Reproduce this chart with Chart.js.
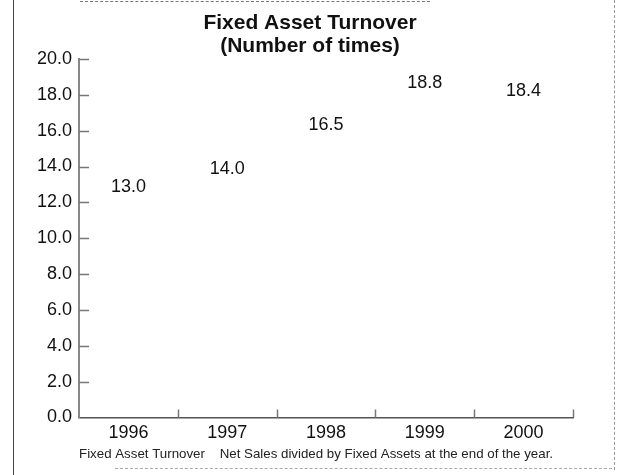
<!DOCTYPE html>
<html lang="en">
<head>
  <meta charset="UTF-8">
  <title>Fixed Asset Turnover</title>
  <script src="https://cdn.jsdelivr.net/npm/chart.js"></script>
  <style>
    body { margin: 0; background: #fff; }
    #wrap { position: relative; width: 620px; height: 475px; }
    .edge { position: absolute; }
  </style>
</head>
<body>
<div id="wrap">
  <canvas id="myChart" width="620" height="475"></canvas>
  <div class="edge" style="left:13px;top:0;width:0;height:475px;border-left:1px solid #444;"></div>
  <div class="edge" style="left:614px;top:0;width:0;height:470px;border-left:1px dashed #999;"></div>
  <div class="edge" style="left:80px;top:1px;width:350px;height:0;border-top:1px dashed #777;"></div>
  <div class="edge" style="left:115px;top:468px;width:497px;height:0;border-top:1px dashed #aaa;"></div>
</div>
<script>
  const years = ['1996', '1997', '1998', '1999', '2000'];
  const turnover = [13.0, 14.0, 16.5, 18.8, 18.4];
  const yTicks = [0, 2, 4, 6, 8, 10, 12, 14, 16, 18, 20];
  const titleLines = ['Fixed Asset Turnover', '(Number of times)'];
  const footnote = 'Fixed Asset Turnover    Net Sales divided by Fixed Assets at the end of the year.';

  const fontFamily = '"Liberation Sans", Arial, Helvetica, sans-serif';

  // value labels printed at the top of each (blank) bar
  const valueLabels = {
    id: 'valueLabels',
    afterDatasetsDraw(chart) {
      const ctx = chart.ctx;
      const meta = chart.getDatasetMeta(0);
      ctx.save();
      ctx.font = '18px ' + fontFamily;
      ctx.fillStyle = '#111';
      ctx.textAlign = 'center';
      ctx.textBaseline = 'middle';
      meta.data.forEach((bar, i) => {
        ctx.fillText(turnover[i].toFixed(1), bar.x, bar.y + 3);
      });
      ctx.restore();
    }
  };

  // short tick marks pointing into the plot from both axes
  const innerTicks = {
    id: 'innerTicks',
    afterDraw(chart) {
      const ctx = chart.ctx;
      const area = chart.chartArea;
      const xs = chart.scales.x;
      const ys = chart.scales.y;
      ctx.save();
      ctx.strokeStyle = '#777';
      ctx.lineWidth = 1.5;
      ctx.beginPath();
      yTicks.forEach(v => {
        if (v === 0) return;
        const y = Math.round(ys.getPixelForValue(v)) + 0.5;
        ctx.moveTo(area.left, y);
        ctx.lineTo(area.left + 10, y);
      });
      for (let i = 1; i <= years.length; i++) {
        let x = i < years.length
          ? (xs.getPixelForValue(i - 1) + xs.getPixelForValue(i)) / 2
          : area.right;
        x = Math.round(x) + 0.5;
        ctx.moveTo(x, area.bottom);
        ctx.lineTo(x, area.bottom - 8);
      }
      ctx.stroke();
      ctx.restore();
    }
  };

  // heading centred on the page, definition line under the axis
  const headings = {
    id: 'headings',
    afterDraw(chart) {
      const ctx = chart.ctx;
      ctx.save();
      ctx.fillStyle = '#111';
      ctx.textBaseline = 'middle';
      ctx.textAlign = 'center';
      ctx.font = 'bold 21px ' + fontFamily;
      titleLines.forEach((line, i) => {
        ctx.fillText(line, chart.width / 2, 23 + i * 23);
      });
      ctx.font = '13.3px ' + fontFamily;
      ctx.fillStyle = '#222';
      ctx.textAlign = 'left';
      ctx.fillText(footnote, chart.chartArea.left, chart.height - 21);
      ctx.restore();
    }
  };

  const ctx = document.getElementById('myChart').getContext('2d');
  new Chart(ctx, {
    type: 'bar',
    data: {
      labels: years,
      datasets: [{
        label: 'Fixed Asset Turnover',
        data: turnover,
        backgroundColor: 'rgba(255,255,255,0)',
        borderWidth: 0
      }]
    },
    options: {
      responsive: false,
      animation: false,
      devicePixelRatio: 1,
      layout: {
        padding: { left: 30, right: 47, top: 59, bottom: 26 }
      },
      scales: {
        x: {
          grid: { display: false, drawTicks: false },
          border: { display: true, color: '#555', width: 1.5 },
          ticks: {
            padding: 5,
            color: '#111',
            font: { family: fontFamily, size: 18 }
          }
        },
        y: {
          min: 0,
          max: 20,
          afterBuildTicks(scale) {
            scale.ticks = yTicks.map(v => ({ value: v }));
          },
          grid: { display: false, drawTicks: false },
          border: { display: true, color: '#888', width: 2 },
          ticks: {
            padding: 7,
            color: '#111',
            font: { family: fontFamily, size: 18 },
            callback: v => Number(v).toFixed(1)
          }
        }
      },
      plugins: {
        legend: { display: false },
        tooltip: { enabled: false },
        title: { display: false }
      }
    },
    plugins: [valueLabels, innerTicks, headings]
  });
</script>
</body>
</html>
